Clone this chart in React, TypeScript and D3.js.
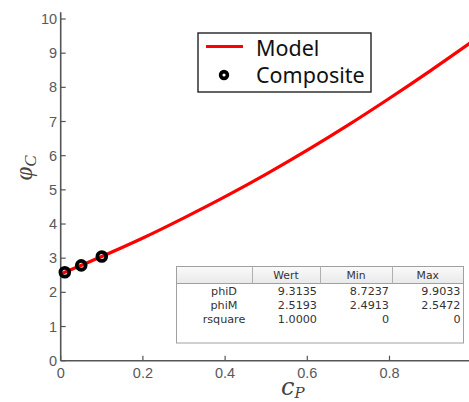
import React from "react";
import * as d3 from "d3";

const modelCP = [0, 0.1, 0.2, 0.3, 0.4, 0.5, 0.6, 0.7, 0.8, 0.9, 1.0];
const modelPhi = [2.54, 3.05, 3.59, 4.18, 4.8, 5.46, 6.16, 6.9, 7.68, 8.49, 9.33];
const compositeCP = [0.01, 0.05, 0.1];
const compositePhi = [2.59, 2.79, 3.05];
const xTicks = [0, 0.2, 0.4, 0.6, 0.8];
const yTicks = [0, 1, 2, 3, 4, 5, 6, 7, 8, 9, 10];
const tableCols = ["Wert", "Min", "Max"];
const tableRows = ["phiD", "phiM", "rsquare"];
const tableValues = [
  ["9.3135", "8.7237", "9.9033"],
  ["2.5193", "2.4913", "2.5472"],
  ["1.0000", "0", "0"],
];
const legendLabels = ["Model", "Composite"];

const W = 469;
const H = 402;

export default function App() {
  const x = d3.scaleLinear().domain([0, 1]).range([60.7, 471.7]);
  const y = d3.scaleLinear().domain([0, 10]).range([360.7, 19]);
  const yTop = y(10.2);
  const line = d3
    .line<number>()
    .x((_, i) => x(modelCP[i]))
    .y((d) => y(d))
    .curve(d3.curveCatmullRom);
  const axisColor = "#555";
  const tickFont = "'Liberation Sans', Arial, sans-serif";

  // table geometry
  const tL = 176.5, tR = 463.5, tT = 266.5, tB = 343;
  const hH = 17;
  const rowH = 14;
  const colEdges = [tL, 252, 320, 392, tR];

  return (
    <svg
      width={W}
      height={H}
      style={{ position: "fixed", left: 0, top: 0, background: "#fff" }}
    >
      <rect x={0} y={0} width={W} height={H} fill="#fff" />
      <defs>
        <linearGradient id="hdr" x1="0" y1="0" x2="0" y2="1">
          <stop offset="0" stopColor="#fafafa" />
          <stop offset="1" stopColor="#e9e9e9" />
        </linearGradient>
      </defs>
      {/* axes */}
      <line x1={x(0)} x2={W} y1={y(0)} y2={y(0)} stroke={axisColor} strokeWidth={1.6} />
      <line x1={x(0)} x2={x(0)} y1={yTop} y2={y(0)} stroke={axisColor} strokeWidth={1.6} />
      {yTicks.map((t) => (
        <g key={"y" + t}>
          <line x1={x(0)} x2={x(0) + 5} y1={y(t)} y2={y(t)} stroke={axisColor} strokeWidth={1.2} />
          <text
            x={x(0) - 3.5}
            y={y(t) + 5}
            textAnchor="end"
            fontFamily={tickFont}
            fontSize={14.5}
            fill="#595959"
          >
            {t}
          </text>
        </g>
      ))}
      {xTicks.map((t) => (
        <g key={"x" + t}>
          <line x1={x(t)} x2={x(t)} y1={y(0)} y2={y(0) - 5} stroke={axisColor} strokeWidth={1.2} />
          <text
            x={x(t)}
            y={y(0) + 17}
            textAnchor="middle"
            fontFamily={tickFont}
            fontSize={14.5}
            fill="#595959"
          >
            {t}
          </text>
        </g>
      ))}
      {/* axis titles */}
      <text
        x={281}
        y={395}
        fontFamily="'DejaVu Serif', 'Liberation Serif', serif"
        fontStyle="italic"
        fill="#444"
      >
        <tspan fontSize={24}>c</tspan>
        <tspan fontSize={15} dy={3}>P</tspan>
      </text>
      <text
        transform="translate(32,168) rotate(-90)"
        textAnchor="middle"
        fontFamily="'Liberation Serif', 'DejaVu Serif', serif"
        fontStyle="italic"
        fill="#444"
      >
        <tspan fontSize={25}>φ</tspan>
        <tspan fontSize={17} dy={4}>C</tspan>
      </text>
      {/* model curve */}
      <path d={line(modelPhi) || ""} fill="none" stroke="#ff0000" strokeWidth={3.2} />
      {/* composite points */}
      {compositeCP.map((c, i) => (
        <circle
          key={"p" + i}
          cx={x(c)}
          cy={y(compositePhi[i])}
          r={4.4}
          fill="none"
          stroke="#000"
          strokeWidth={3.8}
        />
      ))}
      {/* legend */}
      <rect x={198} y={33} width={173} height={59} fill="#fff" stroke="#222" strokeWidth={1.4} />
      <line x1={206} x2={243} y1={46.5} y2={46.5} stroke="#ff0000" strokeWidth={3.2} />
      <circle cx={224} cy={75} r={3.4} fill="#fff" stroke="#000" strokeWidth={3.6} />
      <text x={256} y={55.5} fontFamily="'Noto Sans', 'Open Sans', sans-serif" fontSize={21.5} fill="#111">
        {legendLabels[0]}
      </text>
      <text x={256} y={83} fontFamily="'Noto Sans', 'Open Sans', sans-serif" fontSize={21.5} fill="#111">
        {legendLabels[1]}
      </text>
      {/* table */}
      <rect x={tL} y={tT} width={tR - tL} height={tB - tT} fill="#fff" stroke="#a0a0a0" strokeWidth={1} />
      <rect x={tL} y={tT} width={tR - tL} height={hH} fill="url(#hdr)" stroke="#a0a0a0" strokeWidth={1} />
      {colEdges.slice(1, -1).map((cx, i) => (
        <line key={"c" + i} x1={cx + 0.5} x2={cx + 0.5} y1={tT} y2={tT + hH} stroke="#b0b0b0" strokeWidth={1} />
      ))}
      {tableCols.map((c, i) => (
        <text
          key={"h" + i}
          x={(colEdges[i + 1] + colEdges[i + 2]) / 2}
          y={tT + 12.5}
          textAnchor="middle"
          fontFamily="'DejaVu Sans', sans-serif"
          fontSize={10.8}
          fill="#333"
        >
          {c}
        </text>
      ))}
      {tableRows.map((r, ri) => (
        <g key={"r" + ri}>
          <text
            x={224}
            y={tT + hH + rowH * ri + 11}
            textAnchor="middle"
            fontFamily="'DejaVu Sans', sans-serif"
            fontSize={11.2}
            fill="#333"
          >
            {r}
          </text>
          {tableValues[ri].map((v, ci) => (
            <text
              key={"v" + ci}
              x={colEdges[ci + 2] - 3}
              y={tT + hH + rowH * ri + 11}
              textAnchor="end"
              fontFamily="'DejaVu Sans', sans-serif"
              fontSize={11.2}
              fill="#333"
            >
              {v}
            </text>
          ))}
        </g>
      ))}
    </svg>
  );
}
